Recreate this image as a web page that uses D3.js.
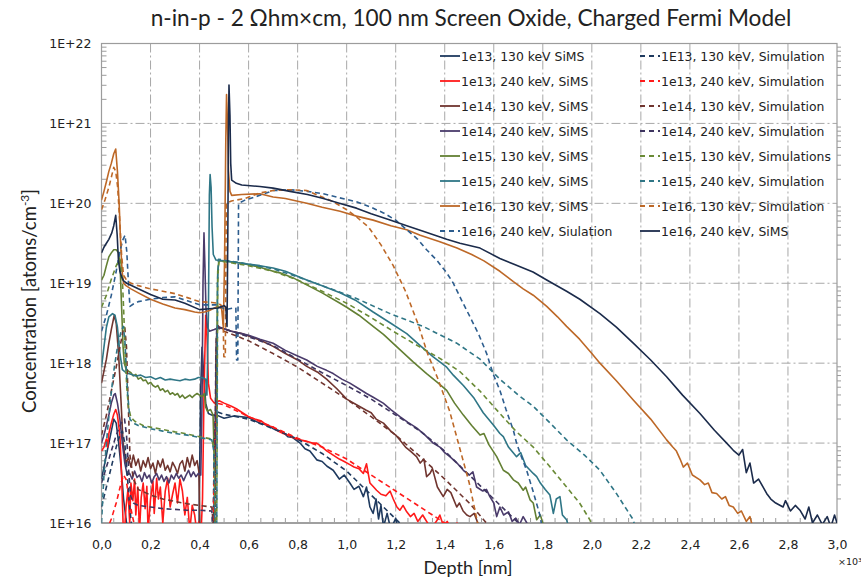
<!DOCTYPE html>
<html>
<head>
<meta charset="utf-8">
<script src="https://cdn.jsdelivr.net/npm/d3@7"></script>
<style>
  html, body { margin: 0; padding: 0; background: #fff; }
  svg { display: block; }
</style>
</head>
<body>
<svg id="chart" width="861" height="582"></svg>
<script>
// Depth profiles: each point is [depth (x10^3 nm), log10 of concentration in atoms/cm^3]

const sims1e13_130 = [[0,16.55],[0.01,16.7],[0.02,16.85],[0.03,17.0],[0.04,17.15],[0.05,17.3],[0.06,17.25],[0.07,17.0],[0.08,16.7],[0.09,16.3],[0.1,16.05],[0.11,15.8],[0.39,15.8],[0.398,16.0],[0.404,17.6],[0.41,18.2],[0.416,17.9],[0.425,17.5],[0.436,17.37],[0.45,17.35],[0.47,17.35],[0.5,17.31],[0.54,17.34],[0.57,17.33],[0.6,17.32],[0.625,17.28],[0.646,17.25],[0.68,17.22],[0.7,17.18],[0.72,17.16],[0.74,17.14],[0.76,17.08],[0.78,17.07],[0.81,17.0],[0.83,16.93],[0.85,16.9],[0.878,16.79],[0.9,16.77],[0.92,16.71],[0.945,16.66],[0.97,16.55],[0.99,16.6],[1.013,16.5],[1.03,16.42],[1.05,16.46],[1.068,16.33],[1.081,16.45],[1.095,16.2],[1.108,16.12],[1.12,16.3],[1.13,16.05],[1.14,16.22],[1.15,15.95],[1.165,16.12],[1.18,15.92],[1.2,16.06],[1.215,15.85],[1.25,15.8]];

const sims1e13_240 = [[0,16.9],[0.01,16.95],[0.02,17.05],[0.025,16.95],[0.03,17.12],[0.04,17.25],[0.05,17.36],[0.058,17.42],[0.065,17.35],[0.075,17.1],[0.082,16.6],[0.088,16.0],[0.092,15.8],[0.1,16.2],[0.108,16.42],[0.115,16.0],[0.12,16.5],[0.128,16.28],[0.135,16.55],[0.14,16.1],[0.148,16.45],[0.155,15.9],[0.162,16.32],[0.17,16.5],[0.178,16.18],[0.185,16.46],[0.19,15.9],[0.2,16.3],[0.21,16.52],[0.215,16.12],[0.225,16.56],[0.232,16.3],[0.24,16.45],[0.25,16.0],[0.26,16.4],[0.27,16.56],[0.28,16.2],[0.29,16.36],[0.3,16.5],[0.31,16.25],[0.32,16.55],[0.33,16.4],[0.34,16.1],[0.35,16.32],[0.36,15.9],[0.37,16.22],[0.38,16.1],[0.39,15.85],[0.398,16.02],[0.405,15.8],[0.412,16.3],[0.418,17.6],[0.425,18.6],[0.43,18.35],[0.436,17.75],[0.445,17.56],[0.46,17.5],[0.48,17.53],[0.5,17.5],[0.53,17.46],[0.55,17.43],[0.575,17.38],[0.6,17.33],[0.625,17.3],[0.65,17.28],[0.675,17.22],[0.7,17.2],[0.72,17.15],[0.741,17.12],[0.76,17.1],[0.78,17.07],[0.81,17.04],[0.84,17.02],[0.86,17.0],[0.878,17.0],[0.9,16.95],[0.92,16.9],[0.945,16.85],[0.97,16.8],[0.99,16.77],[1.013,16.73],[1.03,16.7],[1.05,16.68],[1.068,16.62],[1.081,16.74],[1.095,16.5],[1.11,16.45],[1.122,16.41],[1.14,16.36],[1.16,16.34],[1.177,16.4],[1.19,16.3],[1.205,16.2],[1.217,16.16],[1.23,16.22],[1.245,16.14],[1.26,16.08],[1.275,16.12],[1.29,16.02],[1.31,16.1],[1.33,16.0],[1.35,15.95],[1.37,16.04],[1.38,16.1],[1.395,15.96],[1.41,16.02],[1.43,15.9],[1.45,16.0],[1.46,15.85]];

const sims1e14_130 = [[0,17.75],[0.01,17.9],[0.02,18.05],[0.03,18.25],[0.04,18.42],[0.052,18.6],[0.06,18.5],[0.07,18.1],[0.08,17.5],[0.088,17.0],[0.095,16.85],[0.1,16.75],[0.11,16.82],[0.12,16.7],[0.13,16.85],[0.14,16.72],[0.15,16.8],[0.16,16.65],[0.17,16.78],[0.18,16.7],[0.19,16.82],[0.2,16.68],[0.21,16.75],[0.22,16.62],[0.23,16.78],[0.24,16.7],[0.25,16.8],[0.26,16.66],[0.27,16.72],[0.28,16.64],[0.29,16.76],[0.3,16.7],[0.31,16.62],[0.32,16.74],[0.33,16.78],[0.34,16.65],[0.35,16.82],[0.36,16.7],[0.37,16.85],[0.38,16.72],[0.39,16.78],[0.397,16.65],[0.402,15.9],[0.455,15.9],[0.462,16.5],[0.468,18.3],[0.475,18.47],[0.483,18.44],[0.5,18.43],[0.53,18.4],[0.572,18.37],[0.6,18.34],[0.646,18.29],[0.7,18.21],[0.75,18.12],[0.8,18.04],[0.837,17.96],[0.88,17.89],[0.918,17.8],[0.96,17.68],[1.0,17.55],[1.04,17.48],[1.08,17.41],[1.1,17.38],[1.12,17.3],[1.15,17.25],[1.18,17.15],[1.2,17.1],[1.217,17.04],[1.24,16.95],[1.26,16.9],[1.285,16.83],[1.3,16.75],[1.315,16.8],[1.326,16.58],[1.34,16.62],[1.35,16.68],[1.37,16.45],[1.394,16.33],[1.41,16.42],[1.425,16.38],[1.449,16.2],[1.46,16.25],[1.475,16.15],[1.49,16.1],[1.503,16.08],[1.52,16.12],[1.535,16.0],[1.55,15.9]];

const sims1e14_240 = [[0,17.0],[0.01,17.1],[0.02,17.22],[0.03,17.35],[0.04,17.5],[0.05,17.6],[0.056,17.62],[0.065,17.5],[0.075,17.3],[0.085,17.0],[0.095,16.75],[0.105,16.6],[0.115,16.62],[0.125,16.55],[0.135,16.65],[0.145,16.57],[0.155,16.6],[0.165,16.52],[0.175,16.63],[0.185,16.56],[0.195,16.6],[0.205,16.5],[0.215,16.58],[0.225,16.62],[0.235,16.54],[0.245,16.6],[0.255,16.52],[0.265,16.58],[0.275,16.5],[0.285,16.6],[0.295,16.55],[0.305,16.62],[0.315,16.56],[0.325,16.6],[0.335,16.53],[0.345,16.6],[0.355,16.66],[0.365,16.58],[0.375,16.64],[0.385,16.58],[0.395,16.62],[0.405,16.6],[0.41,17.5],[0.414,19.0],[0.418,19.63],[0.422,19.2],[0.426,18.7],[0.432,18.45],[0.44,18.4],[0.46,18.42],[0.483,18.45],[0.5,18.43],[0.53,18.4],[0.572,18.37],[0.6,18.35],[0.646,18.3],[0.7,18.25],[0.75,18.16],[0.8,18.09],[0.837,18.04],[0.88,17.96],[0.918,17.91],[0.945,17.87],[0.98,17.8],[1.013,17.75],[1.05,17.68],[1.081,17.62],[1.11,17.57],[1.149,17.5],[1.18,17.42],[1.217,17.33],[1.25,17.26],[1.285,17.19],[1.32,17.1],[1.353,17.0],[1.38,16.95],[1.4,16.88],[1.421,16.83],[1.45,16.75],[1.476,16.66],[1.5,16.6],[1.515,16.64],[1.53,16.45],[1.555,16.4],[1.57,16.42],[1.584,16.33],[1.6,16.25],[1.612,16.08],[1.625,16.2],[1.64,16.1],[1.66,16.14],[1.675,16.02],[1.69,16.06],[1.705,15.98],[1.72,16.08],[1.735,16.0],[1.75,15.9]];

const sims1e15_130 = [[0,19.04],[0.01,19.1],[0.02,19.22],[0.03,19.33],[0.04,19.38],[0.05,19.42],[0.06,19.42],[0.07,19.38],[0.076,19.2],[0.082,18.7],[0.088,18.2],[0.093,18.0],[0.1,17.93],[0.11,17.9],[0.12,17.88],[0.13,17.84],[0.14,17.86],[0.15,17.8],[0.16,17.82],[0.17,17.78],[0.18,17.79],[0.19,17.74],[0.2,17.76],[0.21,17.72],[0.22,17.7],[0.23,17.72],[0.24,17.66],[0.25,17.68],[0.26,17.64],[0.27,17.66],[0.28,17.61],[0.29,17.63],[0.3,17.6],[0.31,17.62],[0.32,17.57],[0.33,17.6],[0.34,17.56],[0.35,17.58],[0.36,17.6],[0.37,17.57],[0.38,17.6],[0.39,17.62],[0.4,17.6],[0.41,17.58],[0.42,17.62],[0.425,17.45],[0.432,17.4],[0.445,17.42],[0.455,17.35],[0.462,16.6],[0.468,17.5],[0.474,19.15],[0.48,19.28],[0.5,19.28],[0.53,19.27],[0.572,19.25],[0.646,19.2],[0.7,19.15],[0.728,19.13],[0.78,19.07],[0.837,18.98],[0.9,18.88],[0.973,18.75],[1.0,18.7],[1.05,18.6],[1.108,18.46],[1.15,18.36],[1.217,18.17],[1.27,18.02],[1.326,17.87],[1.37,17.76],[1.408,17.66],[1.44,17.5],[1.476,17.35],[1.51,17.22],[1.544,17.1],[1.56,17.12],[1.58,16.98],[1.612,16.83],[1.639,16.66],[1.66,16.62],[1.68,16.54],[1.7,16.5],[1.72,16.41],[1.73,16.45],[1.748,16.29],[1.761,16.25],[1.775,16.04],[1.79,16.1],[1.8,16.0],[1.82,15.9]];

const sims1e15_240 = [[0,17.95],[0.01,18.2],[0.02,18.45],[0.03,18.58],[0.045,18.62],[0.055,18.6],[0.065,18.45],[0.075,18.13],[0.085,17.92],[0.1,17.88],[0.12,17.86],[0.14,17.84],[0.16,17.85],[0.18,17.82],[0.2,17.83],[0.22,17.8],[0.24,17.82],[0.26,17.79],[0.28,17.8],[0.3,17.79],[0.32,17.78],[0.34,17.8],[0.36,17.79],[0.38,17.8],[0.395,17.82],[0.41,17.82],[0.425,17.8],[0.43,17.6],[0.436,18.6],[0.44,20.1],[0.443,20.36],[0.447,20.2],[0.451,19.7],[0.456,19.36],[0.467,19.29],[0.5,19.28],[0.572,19.25],[0.646,19.22],[0.7,19.19],[0.75,19.15],[0.837,19.04],[0.9,18.97],[0.973,18.88],[1.04,18.78],[1.108,18.64],[1.18,18.5],[1.245,18.37],[1.3,18.22],[1.353,18.08],[1.408,17.95],[1.435,17.85],[1.476,17.72],[1.52,17.56],[1.557,17.38],[1.6,17.22],[1.625,17.12],[1.639,17.08],[1.66,16.95],[1.693,16.83],[1.71,16.88],[1.73,16.72],[1.761,16.62],[1.775,16.58],[1.79,16.5],[1.81,16.42],[1.829,16.35],[1.843,16.12],[1.855,16.3],[1.87,16.33],[1.88,16.1],[1.897,16.04],[1.91,15.9]];

const sims1e16_130 = [[0,20.04],[0.01,20.15],[0.02,20.27],[0.03,20.4],[0.04,20.5],[0.05,20.62],[0.058,20.68],[0.065,20.4],[0.072,20.0],[0.078,19.5],[0.084,19.15],[0.09,19.0],[0.1,18.97],[0.12,18.93],[0.15,18.88],[0.2,18.8],[0.25,18.74],[0.3,18.69],[0.34,18.67],[0.38,18.64],[0.4,18.63],[0.42,18.64],[0.44,18.66],[0.46,18.69],[0.475,18.71],[0.49,18.68],[0.497,18.45],[0.502,19.3],[0.507,20.8],[0.51,21.36],[0.514,21.0],[0.518,20.4],[0.524,20.15],[0.531,20.1],[0.572,20.11],[0.646,20.12],[0.7,20.08],[0.75,20.06],[0.837,20.0],[0.9,19.95],[0.973,19.9],[1.04,19.84],[1.108,19.79],[1.18,19.72],[1.245,19.67],[1.3,19.6],[1.38,19.52],[1.45,19.44],[1.51,19.36],[1.56,19.28],[1.625,19.15],[1.68,19.02],[1.72,18.93],[1.761,18.85],[1.816,18.71],[1.86,18.58],[1.897,18.46],[1.95,18.3],[2.0,18.12],[2.033,18.0],[2.1,17.78],[2.169,17.54],[2.24,17.3],[2.305,17.04],[2.33,16.95],[2.345,16.9],[2.36,16.8],[2.373,16.7],[2.39,16.75],[2.41,16.6],[2.441,16.54],[2.46,16.48],[2.475,16.5],[2.49,16.38],[2.509,16.37],[2.53,16.3],[2.545,16.33],[2.56,16.22],[2.577,16.2],[2.595,16.12],[2.61,16.15],[2.63,16.02],[2.645,16.08],[2.66,15.9]];

const sim1e16_240 = [[0,18.4],[0.02,18.6],[0.04,18.85],[0.06,19.15],[0.075,19.4],[0.088,19.55],[0.096,19.6],[0.103,19.4],[0.11,19.0],[0.116,18.71],[0.13,18.74],[0.15,18.77],[0.2,18.8],[0.25,18.82],[0.3,18.83],[0.35,18.78],[0.4,18.73],[0.45,18.73],[0.476,18.73],[0.504,18.67],[0.537,18.69],[0.548,18.69],[0.551,18.04],[0.556,18.04],[0.559,20.0],[0.585,20.04],[0.646,20.1],[0.7,20.16],[0.77,20.17],[0.84,20.15],[0.905,20.12],[0.97,20.07],[1.04,20.02],[1.1,19.95],[1.15,19.88],[1.2,19.79],[1.245,19.67],[1.29,19.55],[1.326,19.42],[1.37,19.28],[1.408,19.13],[1.435,19.0],[1.47,18.78],[1.503,18.58],[1.54,18.35],[1.571,18.12],[1.598,17.86],[1.625,17.66],[1.65,17.42],[1.68,17.16],[1.693,17.0],[1.71,16.85],[1.734,16.66],[1.76,16.4],[1.788,16.1],[1.8,15.9]];

const sim1e13_130 = [[0,16.2],[0.02,16.45],[0.04,16.7],[0.06,16.95],[0.075,17.1],[0.085,17.15],[0.095,17.0],[0.105,16.6],[0.115,16.2],[0.125,15.9],[0.455,15.9],[0.46,17.0],[0.465,17.4],[0.5,17.36],[0.6,17.3],[0.7,17.18],[0.8,17.05],[0.9,16.87],[1.0,16.65],[1.1,16.35],[1.2,16.05],[1.25,15.9]];

const sim1e13_240 = [[0.02,15.9],[0.04,16.05],[0.06,16.25],[0.08,16.5],[0.09,16.6],[0.1,16.55],[0.11,16.35],[0.125,16.1],[0.14,15.9],[0.455,15.9],[0.462,17.0],[0.468,17.5],[0.5,17.48],[0.6,17.33],[0.7,17.2],[0.8,17.06],[0.9,16.95],[1.0,16.8],[1.1,16.6],[1.2,16.4],[1.3,16.2],[1.4,16.0],[1.45,15.9]];

const sim1e14_130 = [[0,17.1],[0.02,17.35],[0.04,17.65],[0.06,17.95],[0.075,18.2],[0.088,18.4],[0.095,18.45],[0.102,18.2],[0.108,17.6],[0.116,16.85],[0.13,16.55],[0.15,16.42],[0.2,16.35],[0.25,16.3],[0.3,16.27],[0.35,16.24],[0.4,16.22],[0.45,16.2],[0.458,15.9],[0.463,15.9],[0.467,18.0],[0.472,18.45],[0.5,18.4],[0.6,18.28],[0.7,18.12],[0.8,17.95],[0.9,17.75],[1.0,17.55],[1.1,17.33],[1.2,17.1],[1.3,16.83],[1.4,16.55],[1.5,16.25],[1.57,16.0],[1.6,15.9]];

const sim1e14_240 = [[0,16.5],[0.02,16.7],[0.04,16.9],[0.06,17.1],[0.08,17.25],[0.094,17.3],[0.102,17.1],[0.11,16.7],[0.118,16.35],[0.13,16.25],[0.15,16.22],[0.2,16.2],[0.25,16.18],[0.3,16.17],[0.35,16.16],[0.4,16.16],[0.45,16.15],[0.455,15.9],[0.462,15.9],[0.466,18.0],[0.47,18.45],[0.5,18.43],[0.6,18.33],[0.7,18.22],[0.8,18.05],[0.9,17.88],[1.0,17.72],[1.1,17.55],[1.2,17.35],[1.3,17.15],[1.4,16.9],[1.5,16.6],[1.6,16.3],[1.7,16.0],[1.72,15.9]];

const sim1e15_130 = [[0,18.7],[0.02,18.85],[0.04,19.05],[0.06,19.22],[0.075,19.3],[0.083,19.2],[0.09,18.7],[0.096,18.2],[0.103,17.7],[0.11,17.45],[0.12,17.32],[0.137,17.27],[0.17,17.22],[0.2,17.2],[0.25,17.17],[0.3,17.14],[0.34,17.12],[0.4,17.08],[0.45,17.05],[0.46,16.9],[0.464,15.9],[0.47,15.9],[0.474,19.0],[0.478,19.28],[0.5,19.27],[0.6,19.22],[0.7,19.15],[0.8,19.04],[0.9,18.9],[1.0,18.75],[1.1,18.57],[1.2,18.38],[1.3,18.2],[1.38,18.06],[1.46,17.9],[1.544,17.65],[1.625,17.37],[1.69,17.15],[1.761,16.95],[1.83,16.7],[1.897,16.45],[1.95,16.25],[1.992,16.04],[2.01,15.9]];

const sim1e15_240 = [[0,16.0],[0.01,16.6],[0.02,17.0],[0.035,17.5],[0.05,17.9],[0.065,18.2],[0.08,18.4],[0.089,18.46],[0.095,18.3],[0.1,18.0],[0.107,17.6],[0.116,17.3],[0.13,17.25],[0.15,17.22],[0.2,17.18],[0.25,17.15],[0.3,17.12],[0.35,17.1],[0.4,17.07],[0.45,17.04],[0.458,16.9],[0.462,15.9],[0.47,15.9],[0.473,19.0],[0.477,19.3],[0.5,19.29],[0.6,19.24],[0.7,19.18],[0.8,19.08],[0.9,18.97],[1.04,18.81],[1.177,18.62],[1.312,18.46],[1.449,18.25],[1.544,18.05],[1.625,17.8],[1.7,17.6],[1.761,17.46],[1.83,17.25],[1.897,17.04],[1.97,16.85],[2.033,16.66],[2.1,16.37],[2.169,16.04],[2.18,15.9]];

const sim1e16_130 = [[0,19.92],[0.015,20.05],[0.03,20.2],[0.042,20.35],[0.05,20.45],[0.058,20.4],[0.066,20.2],[0.074,19.8],[0.082,19.35],[0.09,19.1],[0.1,19.05],[0.12,19.0],[0.15,18.97],[0.2,18.93],[0.25,18.9],[0.3,18.87],[0.35,18.82],[0.4,18.77],[0.45,18.76],[0.476,18.75],[0.49,18.72],[0.495,18.7],[0.499,18.08],[0.505,18.08],[0.509,20.0],[0.53,20.03],[0.585,20.06],[0.646,20.13],[0.7,20.16],[0.77,20.17],[0.837,20.16],[0.9,20.08],[0.945,20.02],[1.0,19.92],[1.04,19.83],[1.09,19.7],[1.14,19.48],[1.19,19.22],[1.24,18.9],[1.29,18.5],[1.33,18.12],[1.37,17.82],[1.42,17.4],[1.46,16.95],[1.5,16.5],[1.53,16.06],[1.54,15.9]];

const sims1e16_240 = [[0,19.38],[0.01,19.45],[0.02,19.5],[0.03,19.55],[0.042,19.63],[0.05,19.72],[0.058,19.85],[0.064,19.6],[0.069,19.29],[0.075,19.15],[0.082,19.08],[0.09,19.03],[0.103,19.0],[0.15,18.93],[0.2,18.86],[0.25,18.8],[0.3,18.79],[0.34,18.75],[0.4,18.67],[0.44,18.68],[0.476,18.69],[0.5,18.72],[0.507,18.7],[0.512,18.46],[0.515,19.5],[0.518,21.0],[0.52,21.48],[0.524,21.1],[0.527,20.5],[0.531,20.29],[0.55,20.25],[0.572,20.23],[0.646,20.21],[0.7,20.19],[0.769,20.15],[0.84,20.11],[0.905,20.06],[0.97,20.0],[1.04,19.94],[1.1,19.87],[1.177,19.79],[1.245,19.72],[1.312,19.65],[1.408,19.55],[1.462,19.5],[1.544,19.44],[1.625,19.31],[1.68,19.24],[1.76,19.14],[1.816,19.04],[1.897,18.9],[1.951,18.8],[2.033,18.62],[2.1,18.45],[2.169,18.25],[2.24,18.04],[2.305,17.83],[2.37,17.6],[2.441,17.37],[2.5,17.16],[2.55,17.0],[2.577,16.91],[2.6,16.85],[2.615,16.92],[2.63,16.63],[2.645,16.75],[2.66,16.5],[2.68,16.55],[2.713,16.37],[2.73,16.3],[2.75,16.25],[2.78,16.2],[2.79,16.28],[2.81,16.15],[2.83,16.22],[2.849,16.16],[2.87,16.05],[2.885,16.2],[2.9,16.0],[2.92,16.1],[2.94,15.98],[2.96,16.08],[2.975,15.95],[2.99,16.1],[3.0,16.0]];

// Axis tick values
const depthTicks = [0, 0.2, 0.4, 0.6, 0.8, 1.0, 1.2, 1.4, 1.6, 1.8, 2.0, 2.2, 2.4, 2.6, 2.8, 3.0];
const decadeTicks = [1e16, 1e17, 1e18, 1e19, 1e20, 1e21, 1e22];

// Series definitions (legend order: left column, then right column)
const series = [
  { label: "1e13, 130 keV SiMS",          data: sims1e13_130, color: "#1f3a5f", dashed: false },
  { label: "1e13, 240 keV, SiMS",         data: sims1e13_240, color: "#ff1a1a", dashed: false },
  { label: "1e14, 130 keV, SiMS",         data: sims1e14_130, color: "#70352f", dashed: false },
  { label: "1e14, 240 keV, SiMS",         data: sims1e14_240, color: "#4a3b6b", dashed: false },
  { label: "1e15, 130 keV, SiMS",         data: sims1e15_130, color: "#637f33", dashed: false },
  { label: "1e15, 240 keV, SiMS",         data: sims1e15_240, color: "#2f7686", dashed: false },
  { label: "1e16, 130 keV, SiMS",         data: sims1e16_130, color: "#bd6827", dashed: false },
  { label: "1e16, 240 keV, Siulation",    data: sim1e16_240,  color: "#2d5d8e", dashed: true  },
  { label: "1E13, 130 keV, Simulation",   data: sim1e13_130,  color: "#1f3a5f", dashed: true  },
  { label: "1e13, 240 keV, Simulation",   data: sim1e13_240,  color: "#ff1a1a", dashed: true  },
  { label: "1e14, 130 keV, Simulation",   data: sim1e14_130,  color: "#70352f", dashed: true  },
  { label: "1e14, 240 keV, Simulation",   data: sim1e14_240,  color: "#3e3560", dashed: true  },
  { label: "1e15, 130 keV, Simulations",  data: sim1e15_130,  color: "#6a8a36", dashed: true  },
  { label: "1e15, 240 keV, Simulation",   data: sim1e15_240,  color: "#2f7686", dashed: true  },
  { label: "1e16, 130 keV, Simulation",   data: sim1e16_130,  color: "#bd6827", dashed: true  },
  { label: "1e16, 240 keV, SiMS",         data: sims1e16_240, color: "#1b2b4b", dashed: false }
];

const svg = d3.select("#chart");
const plot = { left: 101.5, right: 837, top: 43.5, bottom: 523 };

const x = d3.scaleLinear().domain([0, 3]).range([plot.left, plot.right]);
const y = d3.scaleLog().domain([1e16, 1e22]).range([plot.bottom, plot.top]);

const gridColor = "#a8a8a8";
const axisColor = "#9c9c9c";
const dashDot = "9,3,2,3";

// Title
svg.append("text")
  .attr("x", 471).attr("y", 26)
  .attr("text-anchor", "middle")
  .attr("font-family", "Lato, 'Open Sans', sans-serif")
  .attr("font-size", 22.6)
  .attr("fill", "#222")
  .text("n-in-p - 2 \u03A9hm\u00D7cm, 100 nm Screen Oxide, Charged Fermi Model");

// Grid lines
const grid = svg.append("g");
grid.selectAll("line.v")
  .data(depthTicks.filter(d => d > 0 && d < 3))
  .join("line")
  .attr("x1", d => x(d)).attr("x2", d => x(d))
  .attr("y1", plot.top).attr("y2", plot.bottom)
  .attr("stroke", gridColor).attr("stroke-width", 1)
  .attr("stroke-dasharray", dashDot);
grid.selectAll("line.h")
  .data(decadeTicks.filter(d => d > 1e16 && d < 1e22))
  .join("line")
  .attr("x1", plot.left).attr("x2", plot.right)
  .attr("y1", d => y(d)).attr("y2", d => y(d))
  .attr("stroke", gridColor).attr("stroke-width", 1)
  .attr("stroke-dasharray", dashDot);

// Minor ticks on the log axis (left inward, right outward)
const minorY = [];
for (let k = 16; k < 22; k++) for (let m = 2; m <= 9; m++) minorY.push(m * Math.pow(10, k));
const ticksG = svg.append("g").attr("stroke", axisColor).attr("stroke-width", 1);
ticksG.selectAll("line.ml").data(minorY).join("line")
  .attr("x1", plot.left).attr("x2", plot.left + 5)
  .attr("y1", d => y(d)).attr("y2", d => y(d));
ticksG.selectAll("line.mr").data(minorY).join("line")
  .attr("x1", plot.right).attr("x2", plot.right + 4)
  .attr("y1", d => y(d)).attr("y2", d => y(d));
// Minor ticks on the depth axis
const minorX = d3.range(0, 60).map(i => i * 0.05).filter(d => Math.abs(d / 0.2 - Math.round(d / 0.2)) > 1e-6);
ticksG.selectAll("line.mx").data(minorX).join("line")
  .attr("x1", d => x(d)).attr("x2", d => x(d))
  .attr("y1", plot.bottom).attr("y2", plot.bottom - 5);

// Frame
svg.append("rect")
  .attr("x", plot.left).attr("y", plot.top)
  .attr("width", plot.right - plot.left).attr("height", plot.bottom - plot.top)
  .attr("fill", "none").attr("stroke", axisColor).attr("stroke-width", 1.2);
svg.append("line")
  .attr("x1", plot.left).attr("x2", plot.right)
  .attr("y1", plot.bottom).attr("y2", plot.bottom)
  .attr("stroke", "#a0a0a0").attr("stroke-width", 2.2);

// Axes labels via d3 axes
const yAxis = d3.axisLeft(y)
  .tickValues(decadeTicks)
  .tickFormat(d => "1E+" + Math.round(Math.log10(d)))
  .tickSize(0).tickPadding(10);
const yg = svg.append("g").attr("transform", `translate(${plot.left},0)`).call(yAxis);
yg.select(".domain").remove();
yg.selectAll("text")
  .attr("font-family", "'DejaVu Sans', sans-serif")
  .attr("font-size", 12.5).attr("fill", "#222");

const xAxis = d3.axisBottom(x)
  .tickValues(depthTicks)
  .tickFormat(d => d3.format(".1f")(d).replace(".", ","))
  .tickSize(0).tickPadding(17);
const xg = svg.append("g").attr("transform", `translate(0,${plot.bottom})`).call(xAxis);
xg.select(".domain").remove();
xg.selectAll("text")
  .attr("font-family", "'DejaVu Sans', sans-serif")
  .attr("font-size", 12.5).attr("fill", "#222");

// Axis titles
svg.append("text")
  .attr("x", 468).attr("y", 574)
  .attr("text-anchor", "middle")
  .attr("font-family", "Lato, 'Open Sans', sans-serif")
  .attr("font-size", 18).attr("fill", "#222")
  .text("Depth [nm]");
svg.append("text")
  .attr("x", 838).attr("y", 565)
  .attr("font-family", "'DejaVu Sans', sans-serif")
  .attr("font-size", 9.5).attr("fill", "#222")
  .text("\u00D710\u00B3");

const yTitle = svg.append("text")
  .attr("transform", "translate(36,301) rotate(-90)")
  .attr("text-anchor", "middle")
  .attr("font-family", "Lato, 'Open Sans', sans-serif")
  .attr("font-size", 18.5).attr("fill", "#222");
yTitle.append("tspan").text("Concentration [atoms/cm");
yTitle.append("tspan").attr("dy", -7).attr("font-size", 12).text("-3");
yTitle.append("tspan").attr("dy", 7).text("]");

// Data curves
svg.append("clipPath").attr("id", "plotClip")
  .append("rect")
  .attr("x", plot.left).attr("y", plot.top)
  .attr("width", plot.right - plot.left).attr("height", plot.bottom - plot.top);

const line = d3.line()
  .x(d => x(d[0]))
  .y(d => y(Math.pow(10, d[1])));

const curves = svg.append("g").attr("clip-path", "url(#plotClip)");
curves.selectAll("path")
  .data(series)
  .join("path")
  .attr("d", d => line(d.data))
  .attr("fill", "none")
  .attr("stroke", d => d.color)
  .attr("stroke-width", 1.6)
  .attr("stroke-linejoin", "round")
  .attr("stroke-dasharray", d => d.dashed ? "5,3.5" : null);

// Legend: two columns of eight entries
const legend = svg.append("g");
const legendItems = legend.selectAll("g")
  .data(series)
  .join("g")
  .attr("transform", (d, i) => {
    const col = Math.floor(i / 8), row = i % 8;
    return `translate(${440 + col * 200},${56 + row * 25})`;
  });
legendItems.append("line")
  .attr("x1", 0).attr("x2", 20)
  .attr("y1", 0).attr("y2", 0)
  .attr("stroke", d => d.color)
  .attr("stroke-width", 1.8)
  .attr("stroke-dasharray", d => d.dashed ? "5,4" : null);
legendItems.append("text")
  .attr("x", 21).attr("y", 4.5)
  .attr("font-family", "'DejaVu Sans', sans-serif")
  .attr("font-size", 12.4).attr("fill", "#222")
  .text(d => d.label);
</script>
</body>
</html>
